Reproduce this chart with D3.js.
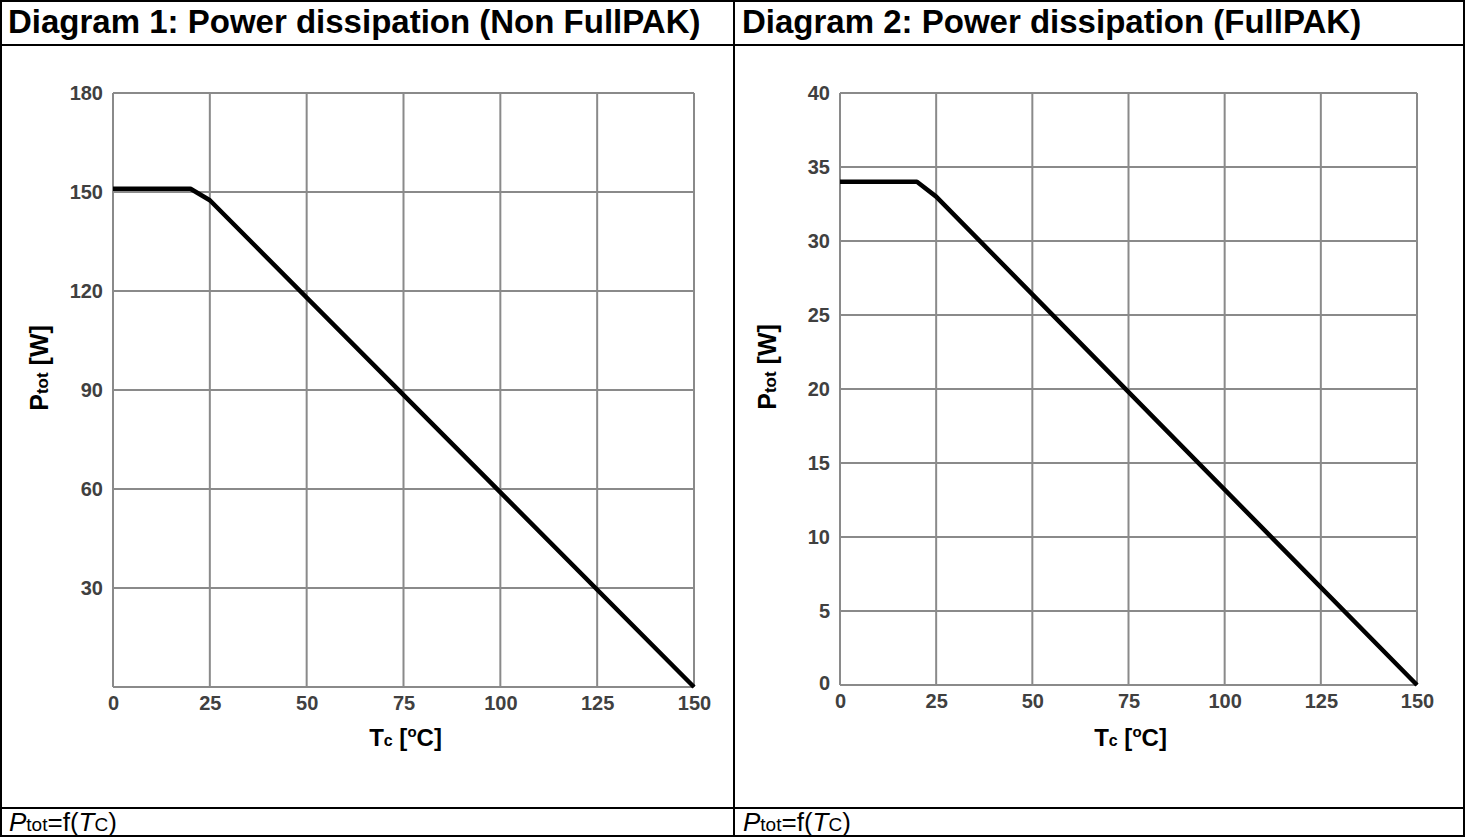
<!DOCTYPE html>
<html><head><meta charset="utf-8">
<script src="https://cdn.jsdelivr.net/npm/d3@7"></script>
<style>
body{margin:0;background:#fff;}
svg text{font-family:"Liberation Sans",Arial,sans-serif;}
</style></head>
<body><svg id="c" width="1466" height="837"></svg>
<script>
const titles = ["Diagram 1: Power dissipation (Non FullPAK)", "Diagram 2: Power dissipation (FullPAK)"];
const xTicks = [0, 25, 50, 75, 100, 125, 150];
const yTicks1 = [30, 60, 90, 120, 150, 180];
const yTicks2 = [0, 5, 10, 15, 20, 25, 30, 35, 40];
const curveTc1 = [0, 20, 25, 150];
const curveP1 = [151, 151, 147.5, 0];
const curveTc2 = [0, 20, 25, 150];
const curveP2 = [34, 34, 33, 0];

const svg = d3.select("#c");
const frame = svg.append("g").attr("stroke", "#000").attr("stroke-width", 2).attr("fill", "none");
frame.append("rect").attr("x", 1).attr("y", 1).attr("width", 1463).attr("height", 835);
frame.append("line").attr("x1", 1).attr("x2", 1465).attr("y1", 45).attr("y2", 45);
frame.append("line").attr("x1", 1).attr("x2", 1465).attr("y1", 808).attr("y2", 808);
frame.append("line").attr("x1", 734).attr("x2", 734).attr("y1", 1).attr("y2", 836);

const panels = [
  {x0: 8, title: titles[0], xr: [113, 694], yr: [687, 93], ymax: 180, yt: yTicks1, tc: curveTc1, p: curveP1, ylabX: 48},
  {x0: 742, title: titles[1], xr: [840, 1417], yr: [685, 93], ymax: 40, yt: yTicks2, tc: curveTc2, p: curveP2, ylabX: 776}
];

panels.forEach(pn => {
  svg.append("text").attr("x", pn.x0).attr("y", 33).attr("font-size", 33).attr("font-weight", "bold")
    .attr("fill", "#000").text(pn.title);
  const x = d3.scaleLinear().domain([0, 150]).range(pn.xr);
  const y = d3.scaleLinear().domain([0, pn.ymax]).range(pn.yr);
  const g = svg.append("g");
  g.selectAll("line.v").data(xTicks).join("line").attr("class", "v")
    .attr("x1", d => x(d)).attr("x2", d => x(d)).attr("y1", y(0)).attr("y2", y(pn.ymax))
    .attr("stroke", "#8a8a8a").attr("stroke-width", 2);
  g.selectAll("line.h").data([0].concat(pn.yt.filter(d => d !== 0))).join("line").attr("class", "h")
    .attr("x1", x(0)).attr("x2", x(150)).attr("y1", d => y(d)).attr("y2", d => y(d))
    .attr("stroke", "#8a8a8a").attr("stroke-width", 2);
  const xa = d3.axisBottom(x).tickValues(xTicks).tickSize(0).tickPadding(9);
  const xg = g.append("g").attr("transform", `translate(0,${y(0)})`).call(xa);
  xg.select(".domain").remove();
  xg.selectAll("text").attr("font-size", 20).attr("font-weight", "bold").attr("fill", "#404040")
    .attr("font-family", "Liberation Sans, Arial, sans-serif");
  const ya = d3.axisLeft(y).tickValues(pn.yt).tickSize(0).tickPadding(10);
  const yg = g.append("g").attr("transform", `translate(${x(0)},0)`).call(ya);
  yg.select(".domain").remove();
  yg.selectAll("text").attr("font-size", 20).attr("font-weight", "bold").attr("fill", "#404040")
    .attr("font-family", "Liberation Sans, Arial, sans-serif")
    .attr("dy", d => d === 0 ? "0.22em" : "0.3em");
  const line = d3.line().x(d => x(d[0])).y(d => y(d[1]));
  g.append("path").datum(pn.tc.map((t, i) => [t, pn.p[i]])).attr("d", line)
    .attr("fill", "none").attr("stroke", "#000").attr("stroke-width", 4.5).attr("stroke-linejoin", "round");
  const xt = g.append("text").attr("x", (pn.xr[0] + pn.xr[1]) / 2 + 2).attr("y", 746)
    .attr("text-anchor", "middle").attr("font-size", 24).attr("font-weight", "bold").attr("fill", "#000");
  xt.append("tspan").text("T");
  xt.append("tspan").attr("font-size", 16).text("c");
  xt.append("tspan").text(" [");
  xt.append("tspan").attr("font-size", 15).attr("dy", -9).text("o");
  xt.append("tspan").attr("dy", 9).text("C]");
  const yt = g.append("text").attr("transform", `translate(${pn.ylabX},${(pn.yr[0] + pn.yr[1]) / 2 - 22}) rotate(-90)`)
    .attr("text-anchor", "middle").attr("font-size", 25).attr("font-weight", "bold").attr("fill", "#000");
  yt.append("tspan").text("P");
  yt.append("tspan").attr("font-size", 17).text("tot");
  yt.append("tspan").text(" [W]");
  const ft = svg.append("text").attr("x", pn.x0 + 1).attr("y", 831).attr("font-size", 26).attr("fill", "#000");
  ft.append("tspan").attr("font-style", "italic").text("P");
  ft.append("tspan").attr("font-size", 19).text("tot");
  ft.append("tspan").text("=f(");
  ft.append("tspan").attr("font-style", "italic").text("T");
  ft.append("tspan").attr("font-size", 19).text("C");
  ft.append("tspan").text(")");
});
</script></body></html>
